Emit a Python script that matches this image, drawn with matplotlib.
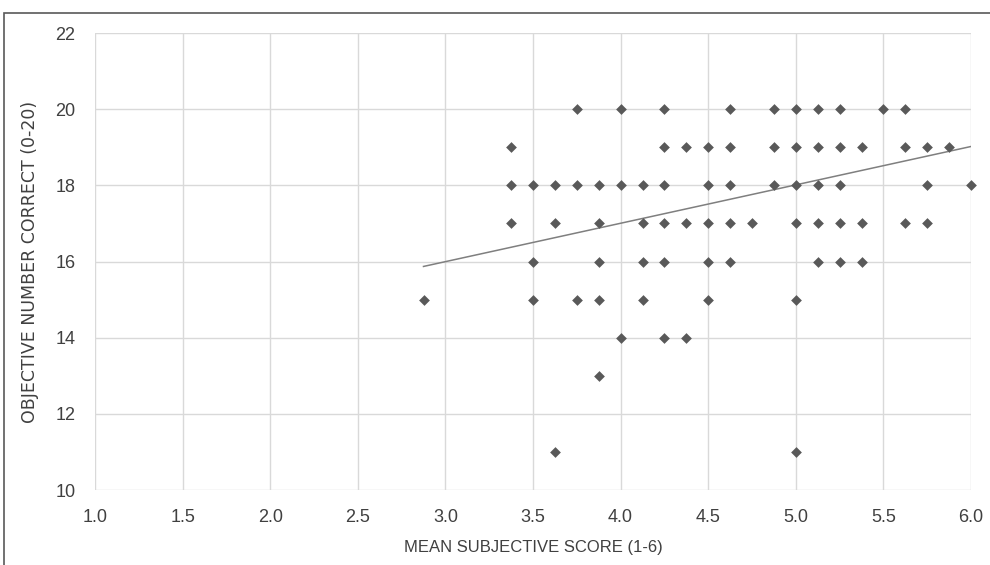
import numpy as np
import matplotlib.pyplot as plt
from matplotlib.patches import Rectangle

# subjective score per row of objective score
score_20 = [3.75, 4.0, 4.25, 4.625, 4.875, 5.0, 5.125, 5.25, 5.5, 5.625]
score_19 = [3.375, 4.25, 4.375, 4.5, 4.625, 4.875, 5.0, 5.125, 5.25, 5.375, 5.625, 5.75, 5.875]
score_18 = [3.375, 3.5, 3.625, 3.75, 3.875, 4.0, 4.125, 4.25, 4.5, 4.625, 4.875, 5.0, 5.125, 5.25, 5.75, 6.0]
score_17 = [3.375, 3.625, 3.875, 4.125, 4.25, 4.375, 4.5, 4.625, 4.75, 5.0, 5.125, 5.25, 5.375, 5.625, 5.75]
score_16 = [3.5, 3.875, 4.125, 4.25, 4.5, 4.625, 5.125, 5.25, 5.375]
score_15 = [2.875, 3.5, 3.75, 3.875, 4.125, 4.5, 5.0]
score_14 = [4.0, 4.25, 4.375]
score_13 = [3.875]
score_11 = [3.625, 5.0]

rows = {20: score_20, 19: score_19, 18: score_18, 17: score_17, 16: score_16,
        15: score_15, 14: score_14, 13: score_13, 11: score_11}

# trend line end points (as drawn in the original, overlapping points hide some data)
trend_x = [2.875, 6.0]
trend_y = [15.87, 19.02]

x_ticks = [1.0, 1.5, 2.0, 2.5, 3.0, 3.5, 4.0, 4.5, 5.0, 5.5, 6.0]
y_ticks = [10, 12, 14, 16, 18, 20, 22]

xs = np.array([x for y, row in rows.items() for x in row])
ys = np.array([y for y, row in rows.items() for x in row], dtype=float)

fig = plt.figure(figsize=(9.9, 5.65), dpi=100)
ax = fig.add_axes([95 / 990, 1 - 490 / 565, 876 / 990, 457 / 565])

text_color = '#404040'
tick_font = ['Liberation Sans', 'DejaVu Sans']

ax.scatter(xs, ys, marker='D', s=30, color='#595959', zorder=3, linewidths=0,
           clip_on=False)
ax.plot(trend_x, trend_y, color='#7f7f7f', linewidth=1.1, zorder=2)

ax.set_xlim(1.0, 6.0)
ax.set_ylim(10, 22)
ax.set_xticks(x_ticks)
ax.set_xticklabels([f'{t:.1f}' for t in x_ticks])
ax.set_yticks(y_ticks)
ax.grid(True, color='#d9d9d9', linewidth=1)
ax.set_axisbelow(True)
for s in ax.spines.values():
    s.set_visible(False)
ax.tick_params(length=0, labelsize=13, colors=text_color, pad=14)
for lab in ax.get_xticklabels() + ax.get_yticklabels():
    lab.set_fontfamily(tick_font)

ax.set_xlabel('MEAN SUBJECTIVE SCORE (1-6)', fontsize=12, color=text_color,
              family=tick_font, labelpad=10)
ax.set_ylabel('OBJECTIVE NUMBER CORRECT (0-20)', fontsize=12.5, color=text_color,
              family='DejaVu Sans', labelpad=12)

# outer chart frame
fig.patches.append(Rectangle((4 / 990, -0.05), 1.1, 1 - 13 / 565 + 0.05,
                             transform=fig.transFigure, fill=False,
                             edgecolor='#595959', linewidth=1.2))

fig.savefig('out.png', dpi=100)
